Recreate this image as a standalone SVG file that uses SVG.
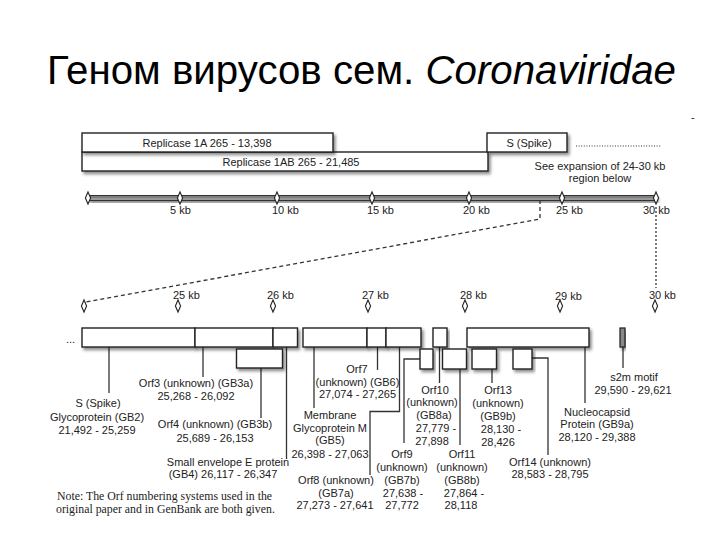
<svg xmlns="http://www.w3.org/2000/svg" width="720" height="540" viewBox="0 0 720 540">
<style>
.t{font-family:"Liberation Sans",Arial,Helvetica,sans-serif;font-size:11px;fill:#222}
.m{text-anchor:middle}
.bx{fill:#fff;stroke:#222;stroke-width:1.4;filter:url(#sh)}
.dm{fill:#fff;stroke:#222;stroke-width:1.1}
.ld{fill:none;stroke:#333;stroke-width:1.3}
.note{font-family:"Liberation Serif","Times New Roman",serif;font-size:11.8px;fill:#222}
</style>
<defs>
<filter id="sh" x="-10%" y="-30%" width="130%" height="180%">
<feDropShadow dx="2" dy="2.5" stdDeviation="1.5" flood-color="#000" flood-opacity="0.45"/>
</filter>
<path id="dia" d="M0,-6 L2.6,0 L0,6 L-2.6,0 Z"/>
</defs>
<rect width="720" height="540" fill="#fff"/>
<text x="47" y="84" font-family="'Liberation Sans',Arial,sans-serif" font-size="40" fill="#000" textLength="629" lengthAdjust="spacingAndGlyphs">Геном вирусов сем. <tspan font-style="italic">Coronaviridae</tspan></text>
<text x="691" y="121" class="t" font-size="9">-</text>

<g id="replicase1ab"><rect class="bx" x="82" y="152" width="406" height="19"/><text class="t m" x="291" y="166">Replicase 1AB 265 - 21,485</text></g>
<g id="replicase1a"><rect class="bx" x="82" y="133" width="251" height="19"/><text class="t m" x="207" y="147">Replicase 1A 265 - 13,398</text></g>
<g id="spike-top"><rect class="bx" x="487" y="133" width="80" height="19"/><text class="t m" x="529" y="147">S (Spike)</text></g>
<g id="expansion-note">
<line x1="576" y1="146" x2="661" y2="146" stroke="#333" stroke-width="1.2" stroke-dasharray="1 1.6"/>
<text class="t m" x="600" y="170">See expansion of 24-30 kb</text>
<text class="t m" x="600" y="182">region below</text>
</g>

<g id="scale-top">
<rect x="88" y="195.5" width="568" height="5" fill="#999" stroke="#333" stroke-width="1" filter="url(#sh)"/>
<line x1="88" y1="197" x2="656" y2="197" stroke="#666" stroke-width="1"/>
<use href="#dia" class="dm" x="88" y="198"/>
<use href="#dia" class="dm" x="180" y="198"/>
<use href="#dia" class="dm" x="277" y="198"/>
<use href="#dia" class="dm" x="372" y="198"/>
<use href="#dia" class="dm" x="469" y="198"/>
<use href="#dia" class="dm" x="562" y="198"/>
<use href="#dia" class="dm" x="656" y="198"/>
<text class="t" x="170" y="214">5 kb</text>
<text class="t" x="272" y="214">10 kb</text>
<text class="t" x="367" y="214">15 kb</text>
<text class="t" x="463" y="214">20 kb</text>
<text class="t" x="556" y="214">25 kb</text>
<text class="t" x="643" y="214">30 kb</text>
</g>

<g id="scale-bottom">
<line x1="84" y1="306" x2="655" y2="306" stroke="#333" stroke-width="2.2" filter="url(#sh)"/>
<use href="#dia" class="dm" x="84" y="306"/>
<use href="#dia" class="dm" x="178" y="306"/>
<use href="#dia" class="dm" x="273" y="306"/>
<use href="#dia" class="dm" x="368" y="306"/>
<use href="#dia" class="dm" x="465" y="306"/>
<use href="#dia" class="dm" x="560" y="306"/>
<use href="#dia" class="dm" x="655" y="306"/>
<text class="t" x="173" y="299">25 kb</text>
<text class="t" x="267" y="299">26 kb</text>
<text class="t" x="362" y="299">27 kb</text>
<text class="t" x="460" y="299">28 kb</text>
<text class="t" x="555" y="300">29 kb</text>
<text class="t" x="649" y="299">30 kb</text>
</g>

<g id="connectors">
<polyline class="ld" points="540,200 540,219 86,302" stroke-dasharray="4 3" stroke-width="1.5"/>
<line class="ld" x1="656" y1="207" x2="656" y2="288" stroke-dasharray="2 2"/>
<path class="ld" d="M109 347V393"/>
<path class="ld" d="M203 347V377"/>
<path class="ld" d="M261 368V418"/>
<path class="ld" d="M286.5 347V459"/>
<path class="ld" d="M314 347V408"/>
<path class="ld" d="M377.5 347V370"/>
<path class="ld" d="M399.5 347V411.5H370V475"/>
<path class="ld" d="M420 359H404V443"/>
<path class="ld" d="M439.5 347V383"/>
<path class="ld" d="M460 369V445"/>
<path class="ld" d="M492 369V383"/>
<path class="ld" d="M532 358H548V455"/>
<path class="ld" d="M585 347V403"/>
<path class="ld" d="M623 347V368"/>
</g>

<text class="t" x="66" y="343">...</text>
<g id="S"><rect class="bx" x="82" y="328" width="113" height="19"/>
<text class="t m" x="98" y="407">S (Spike)</text><text class="t m" x="97" y="421">Glycoprotein (GB2)</text><text class="t m" x="97" y="434">21,492 - 25,259</text></g>
<g id="Orf3"><rect class="bx" x="195" y="328" width="78" height="19"/>
<text class="t m" x="196" y="387">Orf3 (unknown) (GB3a)</text><text class="t m" x="196" y="400">25,268 - 26,092</text></g>
<g id="E"><rect class="bx" x="273" y="328" width="24.5" height="19"/>
<text class="t m" x="228" y="466">Small envelope E protein</text><text class="t m" x="223" y="478">(GB4) 26,117 - 26,347</text></g>
<g id="Orf4"><rect class="bx" x="236.5" y="349" width="46" height="19"/>
<text class="t m" x="215" y="428">Orf4 (unknown) (GB3b)</text><text class="t m" x="215" y="442">25,689 - 26,153</text></g>
<g id="M"><rect class="bx" x="303" y="328" width="64" height="19"/>
<text class="t m" x="330" y="419">Membrane</text><text class="t m" x="330" y="432">Glycoprotein M</text><text class="t m" x="330" y="444">(GB5)</text><text class="t m" x="330" y="458">26,398 - 27,063</text></g>
<g id="Orf7"><rect class="bx" x="367" y="328" width="19" height="19"/>
<text class="t m" x="357" y="373">Orf7</text><text class="t m" x="357.5" y="386">(unknown) (GB6)</text><text class="t m" x="357.5" y="398">27,074 - 27,265</text></g>
<g id="Orf8"><rect class="bx" x="386" y="328" width="35" height="19"/>
<text class="t m" x="336" y="484">Orf8 (unknown)</text><text class="t m" x="336" y="497">(GB7a)</text><text class="t m" x="335" y="509">27,273 - 27,641</text></g>
<g id="Orf9"><rect class="bx" x="420" y="349" width="13" height="20"/>
<text class="t m" x="402" y="458">Orf9</text><text class="t m" x="402" y="471">(unknown)</text><text class="t m" x="402" y="484">(GB7b)</text><text class="t m" x="403" y="497">27,638 -</text><text class="t m" x="402" y="509">27,772</text></g>
<g id="Orf10"><rect class="bx" x="433" y="328" width="14" height="19"/>
<text class="t m" x="435" y="394">Orf10</text><text class="t m" x="432" y="406">(unknown)</text><text class="t m" x="434" y="419">(GB8a)</text><text class="t m" x="436" y="432">27,779 -</text><text class="t m" x="432" y="445">27,898</text></g>
<g id="Orf11"><rect class="bx" x="442.5" y="349" width="24" height="20"/>
<text class="t m" x="462" y="458">Orf11</text><text class="t m" x="462" y="471">(unknown)</text><text class="t m" x="462" y="484">(GB8b)</text><text class="t m" x="464" y="497">27,864 -</text><text class="t m" x="461" y="509">28,118</text></g>
<g id="N"><rect class="bx" x="467" y="328" width="122" height="19"/>
<text class="t m" x="597" y="416">Nucleocapsid</text><text class="t m" x="597" y="428">Protein (GB9a)</text><text class="t m" x="597" y="441">28,120 - 29,388</text></g>
<g id="Orf13"><rect class="bx" x="472" y="349" width="24.5" height="20"/>
<text class="t m" x="498" y="394">Orf13</text><text class="t m" x="498" y="407">(unknown)</text><text class="t m" x="498" y="420">(GB9b)</text><text class="t m" x="501" y="433">28,130 -</text><text class="t m" x="498" y="446">28,426</text></g>
<g id="Orf14"><rect class="bx" x="513" y="349" width="19" height="20"/>
<text class="t m" x="550" y="466">Orf14 (unknown)</text><text class="t m" x="550" y="478">28,583 - 28,795</text></g>
<g id="s2m"><rect x="620" y="328" width="5" height="19" fill="#888" stroke="#222" stroke-width="1.2" filter="url(#sh)"/>
<text class="t m" x="634" y="381">s2m motif</text><text class="t m" x="633" y="394">29,590 - 29,621</text></g>

<g id="note">
<text class="note" x="57" y="500">Note: The Orf numbering systems used in the</text>
<text class="note" x="56" y="513">original paper and in GenBank are both given.</text>
</g>
</svg>
